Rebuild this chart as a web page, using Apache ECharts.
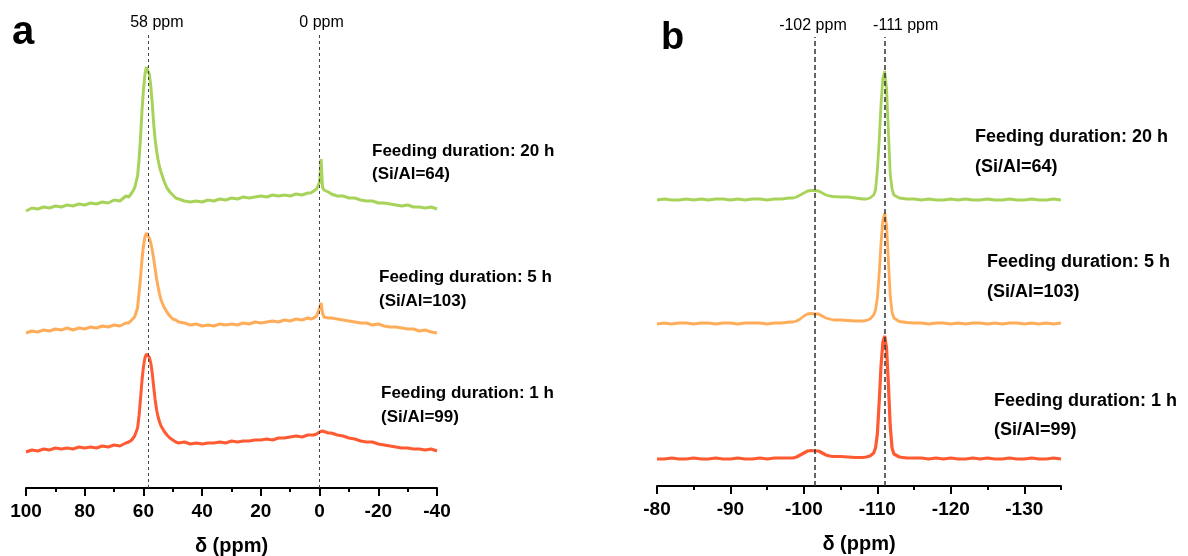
<!DOCTYPE html>
<html>
<head>
<meta charset="utf-8">
<title>NMR spectra</title>
<script src="https://cdn.jsdelivr.net/npm/echarts@6/dist/echarts.min.js"></script>
<style>
  html, body { margin: 0; padding: 0; background: #fff; }
  #main { width: 1188px; height: 556px; }
</style>
</head>
<body>
<div id="main"></div>
<script>
// panel a : 27Al, chemical shift (ppm)
const shiftA = [100, 98, 96, 94, 92, 90, 88, 86, 84, 82, 80, 78, 76, 74, 72, 70, 68, 66,
  65, 64, 63, 62,
  61.5, 61, 60.5, 60, 59.5, 59, 58.5, 58, 57.5, 57, 56.5, 56, 55.5, 55, 54.5, 54,
  53, 52, 51, 50, 49, 48,
  46, 44, 42, 40, 38, 36, 34, 32, 30, 28, 26, 24, 22, 20, 18, 16, 14, 12, 10, 8, 6, 4,
  3, 2, 1.5, 1, 0.5, 0, -0.5, -1, -1.5, -2, -3, -4,
  -6, -8, -10, -12, -14, -16, -18, -20, -22, -24, -26, -28, -30, -32, -34, -36, -38, -40];

// stacked intensities (arbitrary units, offset included)
const green20hA = [277, 280, 279, 281, 280, 282, 281, 283, 282, 284, 283, 285, 284, 286, 285, 288, 287, 292,
  291, 295, 300, 312,
  328, 350, 377, 398, 413, 421, 420, 414, 402, 385, 364, 348, 337, 328, 321, 316,
  307, 300, 296, 293, 290, 289,
  287, 286, 287, 286, 288, 287, 289, 288, 290, 289, 291, 290, 291, 292, 291, 293, 292, 293, 292, 294, 293, 295,
  295, 297, 297, 299, 299, 306, 329, 301, 298, 296, 296, 294,
  292, 292, 290, 290, 288, 287, 287, 285, 285, 284, 283, 282, 283, 281, 281, 280, 281, 279];

const orange5hA = [155, 157, 156, 158, 157, 159, 158, 160, 158, 160, 159, 161, 160, 162, 161, 163, 162, 165,
  165, 168, 171, 180,
  195, 210, 228, 242, 251, 255, 254, 250, 245, 238, 229, 219, 209, 201, 194, 188,
  181, 176, 172, 169, 168, 166,
  165, 163, 164, 162, 163, 162, 164, 163, 164, 163, 165, 164, 166, 165, 166, 167, 166, 168, 167, 169, 168, 170,
  169, 170, 171, 172, 173, 180, 185, 175, 171, 171, 170, 170,
  169, 168, 167, 166, 165, 165, 163, 164, 162, 161, 161, 160, 159, 159, 157, 158, 156, 155];

const red1hA = [36, 38, 37, 39, 38, 40, 39, 40, 39, 41, 40, 41, 40, 42, 41, 43, 42, 45,
  46, 48, 52, 60,
  72, 89, 107, 121, 130, 134, 135, 131, 125, 115, 101, 88, 78, 71, 66, 62,
  57, 53, 50, 48, 46, 45,
  46, 44, 45, 44, 45, 45, 46, 45, 47, 46, 47, 47, 48, 48, 49, 48, 50, 50, 51, 52, 51, 53,
  53, 53, 54, 54, 55, 56, 57, 57, 56, 56, 55, 55,
  53, 52, 50, 49, 47, 46, 46, 44, 43, 42, 41, 40, 40, 39, 39, 38, 39, 37];

// panel b : 29Si
const shiftB = [-80, -81, -82, -83, -84, -85, -86, -87, -88, -89, -90, -91, -92, -93, -94, -95, -96, -97, -98,
  -98.5, -99, -99.5, -100, -100.5, -101, -101.5, -102, -102.5, -103, -103.5, -104,
  -105, -106, -107, -108, -108.5, -109, -109.5,
  -109.75, -110, -110.25, -110.5, -110.75, -111, -111.25, -111.5, -111.75, -112, -112.25, -112.5,
  -113, -113.5, -114,
  -115, -116, -117, -118, -119, -120, -121, -122, -123, -124, -125, -126, -127, -128, -129, -130,
  -131, -132, -133, -134, -135];

const green20hB = [286, 287, 286, 286, 287, 286, 287, 286, 287, 287, 286, 287, 286, 287, 287, 286, 287, 287, 288,
  288, 289, 291, 293, 295, 295.5, 295.5, 295, 293, 291, 290, 289.5,
  289, 289, 288, 287, 287, 288, 291,
  296, 316, 345, 382, 408, 415, 398, 355, 312, 297, 291, 289,
  288, 287.5, 287,
  287, 286, 287, 286, 286, 287, 286, 287, 286, 286, 287, 286, 286, 287, 286, 286, 287, 286, 286, 287, 286];

const orange5hB = [162, 163, 162, 163, 163, 162, 163, 163, 162, 163, 163, 162, 163, 163, 163, 162, 163, 163, 164,
  164, 165, 167, 170, 172, 172.5, 172, 172, 170, 168, 167, 166,
  166, 165.5, 165, 165, 165.5, 167, 171,
  176, 188, 212, 243, 266, 273, 261, 226, 190, 174, 168, 166,
  164.5, 164, 163.5,
  163, 163, 162, 163, 163, 162, 163, 162, 163, 163, 162, 163, 162, 163, 163, 162, 163, 162, 163, 162, 163];

const red1hB = [27, 27, 28, 27, 27, 28, 27, 27, 28, 27, 27, 28, 27, 27, 28, 27, 28, 28, 28,
  28, 29, 31, 33, 35, 35.5, 35, 35, 33, 31, 30, 29.5,
  29.5, 29, 28.5, 28.5, 29, 30, 33,
  38, 52, 84, 120, 144, 150, 138, 102, 60, 38, 32, 30,
  29, 28.5, 28,
  28, 28, 27, 28, 27, 28, 27, 27, 28, 27, 28, 27, 27, 28, 27, 27, 28, 27, 27, 28, 27];

// axes
const majorTicksB = [-80, -90, -100, -110, -120, -130];
const minorTicksB = [-85, -95, -105, -115, -125, -135];

// reference lines and their labels
const markA = [58.5, 0];
const markLabelA = ['58 ppm', '0 ppm'];
const markB = [-101.5, -111];
const markLabelB = ['-102 ppm', '-111 ppm'];

const sampleNames = ['Feeding duration: 20 h', 'Feeding duration: 5 h', 'Feeding duration: 1 h'];
const siAlRatios = ['(Si/Al=64)', '(Si/Al=103)', '(Si/Al=99)'];

const colors = ['#a8d35a', '#ffad5a', '#ff5a32'];
const FONT = 'Liberation Sans, Arial, sans-serif';

const pairs = (xs, ys) => xs.map((x, i) => [x, ys[i]]);

function lineSeries(gridIdx, xIdx, data, color, width, mark, dash) {
  const s = {
    type: 'line',
    xAxisIndex: xIdx,
    yAxisIndex: gridIdx,
    data: data,
    showSymbol: false,
    symbol: 'none',
    lineStyle: { color: color, width: width },
    silent: true
  };
  if (mark) {
    s.markLine = {
      silent: true,
      symbol: 'none',
      label: { show: false },
      lineStyle: { color: dash.color, width: dash.width, type: dash.type },
      data: mark.map(v => ({ xAxis: v }))
    };
  }
  return s;
}

function bottomAxis(gridIdx, min, max, extra) {
  return Object.assign({
    gridIndex: gridIdx,
    type: 'value',
    position: 'bottom',
    min: min,
    max: max,
    inverse: true,
    axisLine: { lineStyle: { color: '#000', width: 2 } },
    axisTick: { length: 8, lineStyle: { color: '#000', width: 2 } },
    axisLabel: { color: '#000', fontSize: 19, fontWeight: 'bold', fontFamily: FONT, margin: 14 },
    splitLine: { show: false },
    name: 'δ (ppm)',
    nameLocation: 'middle',
    nameGap: 48,
    nameTextStyle: { color: '#000', fontSize: 20, fontWeight: 'bold', fontFamily: FONT }
  }, extra);
}

const chart = echarts.init(document.getElementById('main'));

chart.setOption({
  animation: false,
  backgroundColor: '#fff',
  grid: [
    { left: 26, right: 751, top: 32, bottom: 68, outerBoundsMode: 'none' },
    { left: 657, right: 127, top: 37, bottom: 70, outerBoundsMode: 'none' }
  ],
  xAxis: [
    bottomAxis(0, -40, 100, {
      interval: 20,
      minorTick: { show: true, splitNumber: 2, length: 4, lineStyle: { color: '#000', width: 2 } },
      minorSplitLine: { show: false }
    }),
    bottomAxis(1, -135, -80, {
      axisTick: { customValues: majorTicksB, length: 8, lineStyle: { color: '#000', width: 2 } },
      axisLabel: { customValues: majorTicksB, color: '#000', fontSize: 19, fontWeight: 'bold', fontFamily: FONT, margin: 14 }
    }),
    {
      gridIndex: 1, type: 'value', position: 'bottom', min: -135, max: -80, inverse: true,
      axisLine: { show: false },
      axisTick: { customValues: minorTicksB, length: 4, lineStyle: { color: '#000', width: 2 } },
      axisLabel: { show: false },
      splitLine: { show: false }
    }
  ],
  yAxis: [
    { gridIndex: 0, type: 'value', min: 0, max: 456, show: false },
    { gridIndex: 1, type: 'value', min: 0, max: 449, show: false }
  ],
  series: [
    lineSeries(0, 0, pairs(shiftA, green20hA), colors[0], 3, markA, { color: '#444', width: 1, type: [3, 3] }),
    lineSeries(0, 0, pairs(shiftA, orange5hA), colors[1], 3),
    lineSeries(0, 0, pairs(shiftA, red1hA), colors[2], 3),
    lineSeries(1, 1, pairs(shiftB, green20hB), colors[0], 2.8, markB, { color: '#333', width: 1.5, type: [5, 3] }),
    lineSeries(1, 1, pairs(shiftB, orange5hB), colors[1], 2.8),
    lineSeries(1, 1, pairs(shiftB, red1hB), colors[2], 3.2)
  ]
});

// annotations
const txt = (text, x, y, font, align) => ({
  type: 'text', x: x, y: y, silent: true,
  style: { text: text, font: font, fill: '#000', align: align || 'left', verticalAlign: 'middle' }
});

const refFont = '16px ' + FONT;
const offsetsA = [9, 2];
const offsetsB = [-2, 21];
const graphics = [];
markA.forEach((v, i) => {
  const px = chart.convertToPixel({ xAxisIndex: 0 }, v);
  graphics.push(txt(markLabelA[i], px + offsetsA[i], 23, refFont, 'center'));
});
markB.forEach((v, i) => {
  const px = chart.convertToPixel({ xAxisIndex: 1 }, v);
  graphics.push(txt(markLabelB[i], px + offsetsB[i], 26, refFont, 'center'));
});

graphics.push(txt('a', 12, 33, 'bold 40px ' + FONT));
graphics.push(txt('b', 661, 39, 'bold 38px ' + FONT));

const labelPosA = [[372, 151, 174], [379, 277, 301], [381, 393, 417]];
const labelPosB = [[975, 137, 167], [987, 262, 292], [994, 401, 430]];
sampleNames.forEach((name, i) => {
  const a = labelPosA[i], b = labelPosB[i];
  graphics.push(txt(name, a[0], a[1], 'bold 17px ' + FONT));
  graphics.push(txt(siAlRatios[i], a[0], a[2], 'bold 17px ' + FONT));
  graphics.push(txt(name, b[0], b[1], 'bold 18px ' + FONT));
  graphics.push(txt(siAlRatios[i], b[0], b[2], 'bold 18px ' + FONT));
});

chart.setOption({ graphic: graphics });
</script>
</body>
</html>
